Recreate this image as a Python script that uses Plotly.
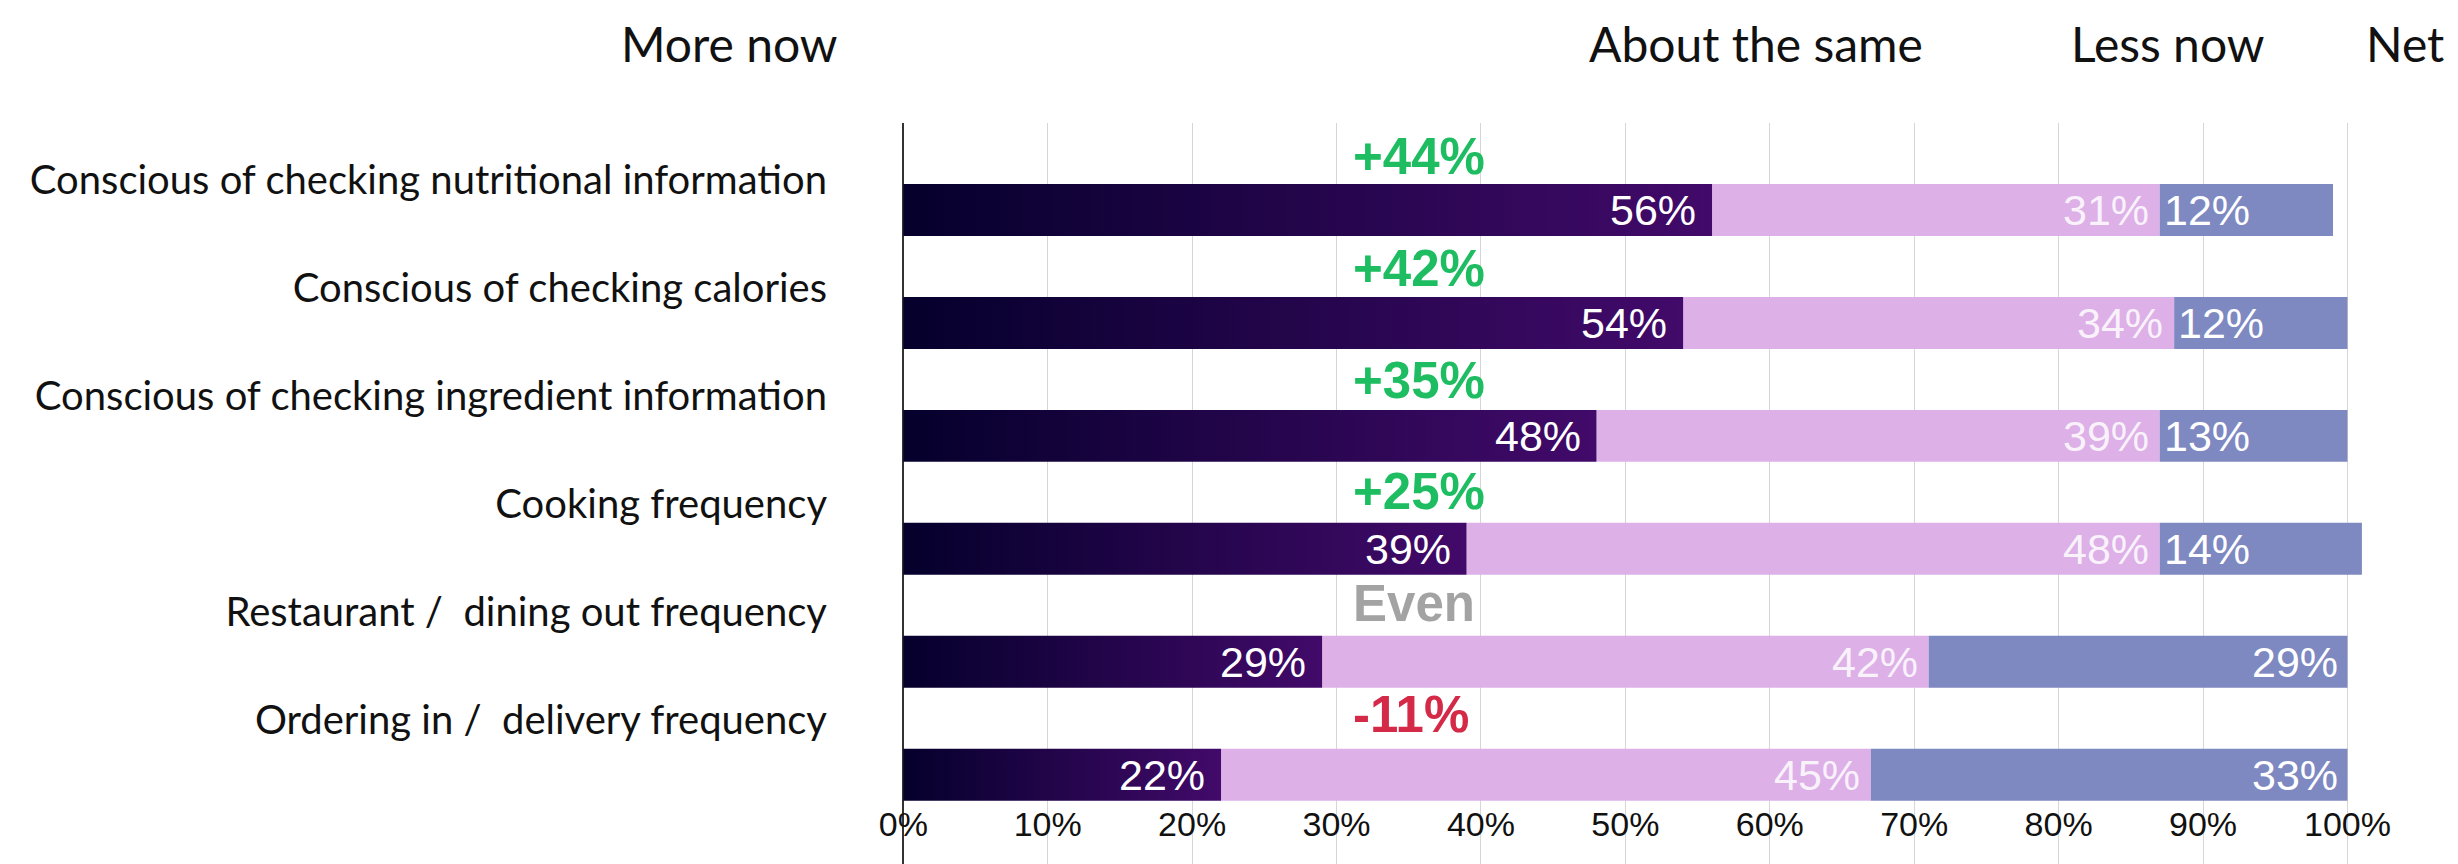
import plotly.graph_objects as go

# Survey rows, top to bottom
categories = [
    "Conscious of checking nutritional information",
    "Conscious of checking calories",
    "Conscious of checking ingredient information",
    "Cooking frequency",
    "Restaurant /  dining out frequency",
    "Ordering in /  delivery frequency",
]
more_now = [56, 54, 48, 39, 29, 22]
about_same = [31, 34, 39, 48, 42, 45]
less_now = [12, 12, 13, 14, 29, 33]
net_labels = ["+44%", "+42%", "+35%", "+25%", "Even", "-11%"]
x_ticks = [0, 10, 20, 30, 40, 50, 60, 70, 80, 90, 100]
headers = ["More now", "About the same", "Less now", "Net"]

# Styling
NUM_FONT = "Liberation Sans, Arial, sans-serif"
LABEL_FONT = "Lato, Noto Sans, sans-serif"
GRAD = [[0, "#05002c"], [1, "#420a6a"]]
PINK = "#ddb0e8"
BLUE = "#7e88c1"
NET_COLORS = {"+": "#1fbd62", "-": "#d42a48", "E": "#a3a3a3"}
BAR_H = 0.46
X_RANGE = [-3, 103.5]


def num_font(size, color, weight="normal"):
    return dict(family=NUM_FONT, size=size, color=color, weight=weight)


rows = list(range(len(categories)))
fig = go.Figure()

# "More now" segments with a left-to-right gradient
for i, v in zip(rows, more_now):
    y0, y1 = i - BAR_H / 2, i + BAR_H / 2
    fig.add_trace(go.Scatter(
        x=[0, v, v, 0, 0], y=[y0, y0, y1, y1, y0],
        mode="lines", fill="toself",
        fillgradient=dict(type="horizontal", colorscale=GRAD),
        line=dict(width=0), hoverinfo="skip", showlegend=False,
    ))

fig.add_trace(go.Bar(
    y=rows, x=about_same, base=more_now, orientation="h", width=BAR_H,
    marker=dict(color=PINK, line=dict(width=0)), hoverinfo="skip", showlegend=False,
))
fig.add_trace(go.Bar(
    y=rows, x=less_now, base=[m + a for m, a in zip(more_now, about_same)],
    orientation="h", width=BAR_H,
    marker=dict(color=BLUE, line=dict(width=0)), hoverinfo="skip", showlegend=False,
))

ann = []
for i in rows:
    m, a, l = more_now[i], about_same[i], less_now[i]
    ann.append(dict(x=m, y=i, xref="x", yref="y", text=f"{m}%", showarrow=False,
                    xanchor="right", xshift=-14, font=num_font(43, "white")))
    ann.append(dict(x=m + a, y=i, xref="x", yref="y", text=f"{a}%", showarrow=False,
                    xanchor="right", xshift=-9, font=num_font(43, "rgba(255,255,255,0.85)")))
    if l < 20:
        ann.append(dict(x=m + a, y=i, xref="x", yref="y", text=f"{l}%", showarrow=False,
                        xanchor="left", xshift=2, font=num_font(43, "white")))
    else:
        ann.append(dict(x=m + a + l, y=i, xref="x", yref="y", text=f"{l}%", showarrow=False,
                        xanchor="right", xshift=-7, font=num_font(43, "white")))
    lbl = net_labels[i]
    ann.append(dict(x=31, y=i - 0.47 - 0.012 * i, xref="x", yref="y", text=lbl,
                    showarrow=False, xanchor="left", yanchor="middle",
                    font=num_font(51, NET_COLORS[lbl[0]], "bold")))

# Column headers above the chart
header_px = [729, 1756, 2167, 2405]
plot_left, plot_w = 860, 2458 - 860 - 60
for h, px in zip(headers, header_px):
    ann.append(dict(x=(px - plot_left) / plot_w, y=1.107, xref="paper", yref="paper",
                    text=h, showarrow=False, xanchor="center", yanchor="middle",
                    font=dict(family=LABEL_FONT, size=48, color="#111111")))

fig.update_layout(
    width=2458, height=864,
    margin=dict(l=plot_left, r=60, t=123, b=0),
    paper_bgcolor="white", plot_bgcolor="white",
    barmode="overlay", annotations=ann,
    xaxis=dict(
        range=X_RANGE, tickvals=x_ticks, ticktext=[f"{t}%" for t in x_ticks],
        showgrid=True, gridcolor="#d6d6d6", gridwidth=1,
        zeroline=True, zerolinecolor="#333333", zerolinewidth=2,
        showline=False, ticks="", ticklabelposition="inside", ticklabelstandoff=18,
        tickfont=num_font(34, "#111111"),
    ),
    yaxis=dict(
        range=[5.79, -0.77],
        tickvals=[i - 0.265 - 0.044 * i for i in rows], ticktext=categories,
        showgrid=False, zeroline=False, showline=False,
        ticks="", ticklabelstandoff=32,
        tickfont=dict(family=LABEL_FONT, size=40, color="#111111"),
    ),
)

fig.write_html("out.html")
